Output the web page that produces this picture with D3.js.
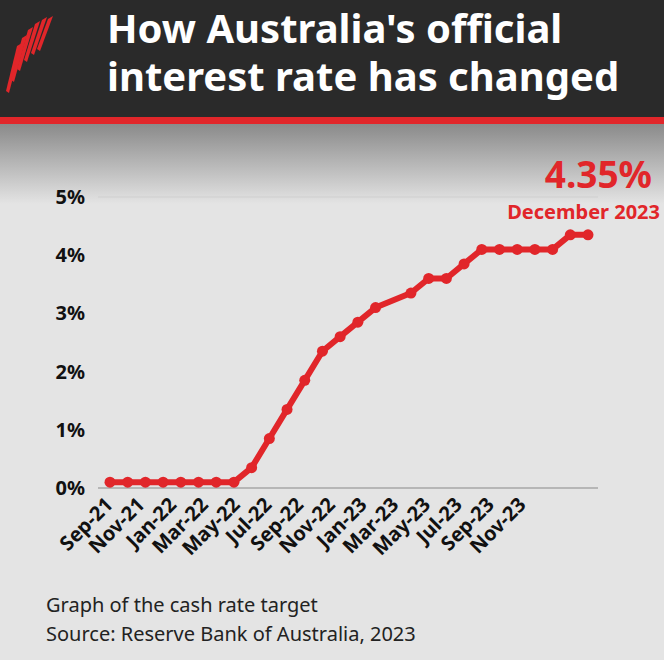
<!DOCTYPE html>
<html><head><meta charset="utf-8">
<script src="https://cdn.jsdelivr.net/npm/d3@7"></script>
<style>body{margin:0;background:#e4e4e4}</style>
</head><body>
<script>
// monthly cash rate target, Sep-21 .. Dec-23 (no January 2023 meeting)
const months = ["Sep-21","Oct-21","Nov-21","Dec-21","Jan-22","Feb-22","Mar-22","Apr-22","May-22","Jun-22","Jul-22","Aug-22","Sep-22","Oct-22","Nov-22","Dec-22","Jan-23","Feb-23","Mar-23","Apr-23","May-23","Jun-23","Jul-23","Aug-23","Sep-23","Oct-23","Nov-23","Dec-23"];
const rates = [0.1,0.1,0.1,0.1,0.1,0.1,0.1,0.1,0.35,0.85,1.35,1.85,2.35,2.6,2.85,3.1,null,3.35,3.6,3.6,3.85,4.1,4.1,4.1,4.1,4.1,4.35,4.35];
const tickLabels = ["Sep-21","Nov-21","Jan-22","Mar-22","May-22","Jul-22","Sep-22","Nov-22","Jan-23","Mar-23","May-23","Jul-23","Sep-23","Nov-23"];
const yTicks = [0,1,2,3,4,5];

const W = 664, H = 660, red = "#e1262a";
const svg = d3.select("body").append("svg").attr("width", W).attr("height", H);

const defs = svg.append("defs");
const g = defs.append("linearGradient").attr("id","bg").attr("x1",0).attr("x2",0).attr("y1",0).attr("y2",1);
g.append("stop").attr("offset","0").attr("stop-color","#8a8a8a");
g.append("stop").attr("offset","1").attr("stop-color","#e4e4e4");
svg.append("rect").attr("width",W).attr("height",H).attr("fill","#e4e4e4");
svg.append("rect").attr("y",124).attr("width",W).attr("height",80).attr("fill","url(#bg)");

// header
svg.append("rect").attr("width",W).attr("height",118).attr("fill","#2a2a2a");
svg.append("rect").attr("y",117).attr("width",W).attr("height",7).attr("fill",red);
const logo = svg.append("g").attr("fill",red);
[[17,46],[22,38],[28,30],[35,24],[42,20],[48,19]].forEach(([x0,y0],i)=>{
  logo.append("path").attr("d",`M${x0},${y0} l5,-3 l-13,${50-i*3} l-3,-2 z`);
});
const titleFont = t => t.attr("fill","#fff").attr("font-family","Noto Sans, sans-serif")
  .attr("font-weight","bold").attr("font-size","40px");
svg.append("text").attr("x",107).attr("y",43).call(titleFont).text("How Australia's official");
svg.append("text").attr("x",107).attr("y",91).call(titleFont).text("interest rate has changed");

// scales
const x = d3.scalePoint().domain(months).range([110,588]);
const y = d3.scaleLinear().domain([0,5]).range([488,197]);
const xl = d3.scalePoint().domain(tickLabels).range([114,527]);

svg.append("line").attr("x1",98).attr("x2",598).attr("y1",y(5)).attr("y2",y(5)).attr("stroke","#cfcfcf");
svg.append("line").attr("x1",98).attr("x2",598).attr("y1",y(0)).attr("y2",y(0)).attr("stroke","#888");

svg.append("g").selectAll("text").data(yTicks).join("text")
  .attr("x",85).attr("y",d=>y(d)+7).attr("text-anchor","end")
  .attr("font-family","Noto Sans, sans-serif").attr("font-weight","bold").attr("font-size","20px").attr("fill","#111")
  .text(d=>d+"%");

svg.append("g").selectAll("text").data(tickLabels).join("text")
  .attr("transform",d=>`translate(${xl(d)},${506}) rotate(-45)`).attr("text-anchor","end")
  .attr("font-family","Noto Sans, sans-serif").attr("font-weight","bold").attr("font-size","20px").attr("fill","#111")
  .text(d=>d);

const pts = months.map((m,i)=>({m, v:rates[i]})).filter(d=>d.v!==null);
svg.append("path").datum(pts).attr("fill","none").attr("stroke",red).attr("stroke-width",6)
  .attr("stroke-linejoin","round")
  .attr("d", d3.line().x(d=>x(d.m)).y(d=>y(d.v)));
svg.append("g").selectAll("circle").data(pts).join("circle")
  .attr("cx",d=>x(d.m)).attr("cy",d=>y(d.v)).attr("r",5.5).attr("fill",red);

svg.append("text").attr("x",652).attr("y",188).attr("text-anchor","end").attr("fill",red)
  .attr("font-family","Noto Sans, sans-serif").attr("font-weight","bold").attr("font-size","37px").text("4.35%");
svg.append("text").attr("x",660).attr("y",219).attr("text-anchor","end").attr("fill",red)
  .attr("font-family","Noto Sans, sans-serif").attr("font-weight","bold").attr("font-size","20px").text("December 2023");

svg.append("text").attr("x",46).attr("y",612).attr("fill","#222")
  .attr("font-family","Noto Sans, sans-serif").attr("font-size","20px").text("Graph of the cash rate target");
svg.append("text").attr("x",46).attr("y",641).attr("fill","#222")
  .attr("font-family","Noto Sans, sans-serif").attr("font-size","20px").text("Source: Reserve Bank of Australia, 2023");
</script>
</body></html>
